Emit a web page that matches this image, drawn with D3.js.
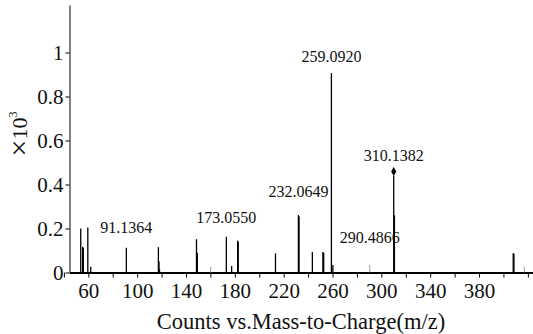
<!DOCTYPE html>
<head>
    <meta charset='utf-8'>
    <style>
        body {
            margin: 0;
            background: #fff;
        }
        .axis path, .axis line {
            stroke: #000;
        }
    </style>
</head>

<body>
<div id='vis'></div>
<script src='https://d3js.org/d3.v7.min.js'></script>
<script>
  // peaks (m/z, intensity x10^3)
  const peakMz  = [53.8, 55.4, 55.9, 59.6, 62.0, 91.14, 117.4, 117.9, 118.3, 148.6, 149.3, 173.055, 177.4, 182.3, 182.8,
                   213.3, 232.065, 232.6, 243.5, 252.1, 252.8, 259.092, 260.3, 310.138, 310.7, 408.0, 408.6]
  const peakInt = [0.200, 0.117, 0.110, 0.204, 0.026, 0.113, 0.115, 0.050, 0.015, 0.151, 0.090, 0.163, 0.030, 0.145, 0.140,
                   0.087, 0.261, 0.255, 0.093, 0.093, 0.090, 0.907, 0.034, 0.440, 0.260, 0.087, 0.085]
  // faint small peaks
  const minorMz  = [160.2, 290.49, 417.1]
  const minorInt = [0.026, 0.034, 0.026]

  // annotated peaks and the level their label sits at
  const labelMz    = [91.1364, 173.0550, 232.0649, 259.0920, 290.4866, 310.1382]
  const labelText  = ['91.1364', '173.0550', '232.0649', '259.0920', '290.4866', '310.1382']
  const labelLevel = [0.180, 0.227, 0.341, 0.957, 0.134, 0.506]

  const precursorMz = 310.1382
  const precursorInt = 0.459

  const xTicks = d3.range(40, 421, 20)
  const xLabels = [60, 100, 140, 180, 220, 260, 300, 340, 380]
  const yTicks = [0, 0.2, 0.4, 0.6, 0.8, 1]

  const serif = "'Liberation Serif', 'Times New Roman', serif"
  const W = 533, H = 334
  const margin = {top: 5, right: 0, bottom: 61.5, left: 69.5}

  const x = d3.scaleLinear()
    .domain([44.6, 424.2])
    .range([margin.left, W - margin.right])

  const y = d3.scaleLinear()
    .domain([0, 1.216])
    .range([H - margin.bottom, margin.top])

  const svg = d3.select('#vis')
    .append('svg')
    .attr('width', W)
    .attr('height', H)
    .attr('font-family', serif)

  // x axis
  const xAxis = svg.append('g')
    .attr('class', 'axis')
    .attr('transform', `translate(0, ${y(0)})`)
    .call(d3.axisBottom(x)
      .tickValues(xTicks)
      .tickSize(5)
      .tickSizeOuter(0)
      .tickFormat(d => xLabels.includes(d) ? d : ''))
  xAxis.attr('font-family', serif).attr('font-size', 21)
  xAxis.select('.domain').attr('stroke-width', 2)
  xAxis.selectAll('text')
    .attr('fill', '#111')
    .attr('y', 11)
    .attr('dy', '0.71em')

  // y axis
  const yAxis = svg.append('g')
    .attr('class', 'axis')
    .attr('transform', `translate(${margin.left}, 0)`)
    .call(d3.axisLeft(y)
      .tickValues(yTicks)
      .tickSize(4)
      .tickSizeOuter(0)
      .tickFormat(d => d))
  yAxis.attr('font-family', serif).attr('font-size', 21)
  yAxis.selectAll('text')
    .attr('fill', '#111')
    .attr('x', -6)
    .attr('dy', '0.34em')

  // peaks
  svg.append('g')
    .selectAll('line')
    .data(peakMz)
    .join('line')
    .attr('x1', d => x(d))
    .attr('x2', d => x(d))
    .attr('y1', y(0))
    .attr('y2', (d, i) => y(peakInt[i]))
    .attr('stroke', '#000')
    .attr('stroke-width', 1.3)

  svg.append('g')
    .selectAll('line')
    .data(minorMz)
    .join('line')
    .attr('x1', d => x(d))
    .attr('x2', d => x(d))
    .attr('y1', y(0))
    .attr('y2', (d, i) => y(minorInt[i]))
    .attr('stroke', '#999')
    .attr('stroke-width', 1)

  // precursor marker
  svg.append('path')
    .attr('d', 'M0,-4.5L2.6,0L0,4.5L-2.6,0Z')
    .attr('transform', `translate(${x(precursorMz)}, ${y(precursorInt)})`)
    .attr('fill', '#000')

  // peak labels
  svg.append('g')
    .selectAll('text')
    .data(labelMz)
    .join('text')
    .attr('x', d => x(d))
    .attr('y', (d, i) => y(labelLevel[i]))
    .attr('text-anchor', 'middle')
    .attr('font-size', 16)
    .attr('fill', '#111')
    .text((d, i) => labelText[i])

  // axis titles
  svg.append('text')
    .attr('x', 301)
    .attr('y', 328.5)
    .attr('text-anchor', 'middle')
    .attr('font-size', 22.5)
    .attr('fill', '#111')
    .text('Counts vs.Mass-to-Charge(m/z)')

  const yTitle = svg.append('text')
    .attr('transform', 'translate(27, 134) rotate(-90)')
    .attr('text-anchor', 'middle')
    .attr('font-size', 22)
    .attr('fill', '#111')
  yTitle.append('tspan')
    .attr('font-size', 30)
    .attr('dy', 2)
    .text('\u00d7')
  yTitle.append('tspan').attr('dy', -2).text('10')
  yTitle.append('tspan')
    .attr('font-size', 12)
    .attr('dy', -10)
    .text('3')

</script>
</body>
